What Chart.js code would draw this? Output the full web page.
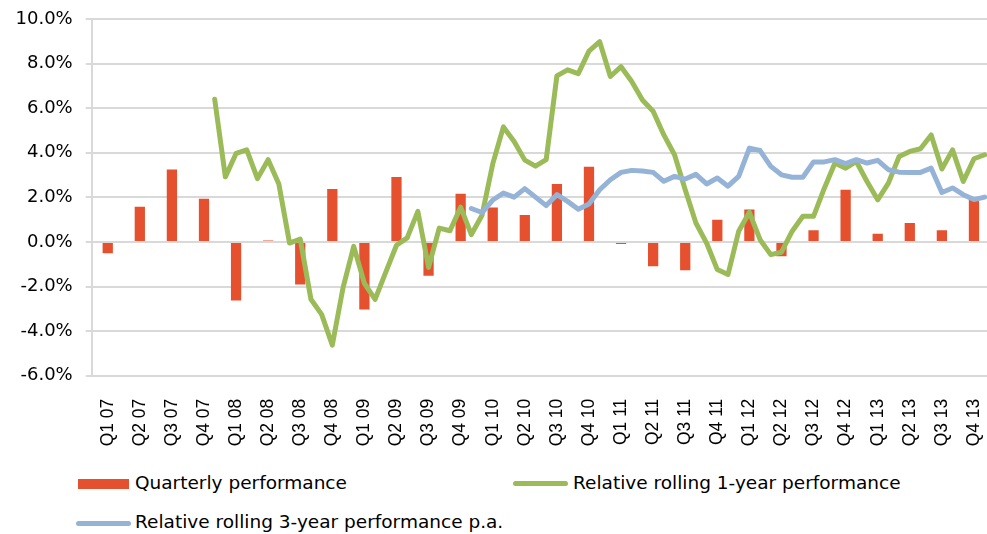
<!DOCTYPE html>
<html lang="en">
<head>
  <meta charset="UTF-8">
  <title>Relative performance</title>
  <script src="https://cdn.jsdelivr.net/npm/chart.js"></script>
  <style>
    body {
      margin: 0;
      background: #fff;
      overflow: hidden;
      width: 987px;
      height: 534px;
      position: relative;
      font-family: "DejaVu Sans", sans-serif;
    }
    .chart-box {
      position: absolute;
      left: 0;
      top: 0;
      width: 990px;
      height: 460px;
    }
    .legend-item {
      position: absolute;
      font-size: 18.5px;
      line-height: 22px;
      color: #000;
      white-space: nowrap;
    }
    .mark {
      position: absolute;
    }
  </style>
</head>
<body>

<div class="chart-box">
  <canvas id="chart"></canvas>
</div>

<div class="mark" style="left:78px; top:479px; width:51px; height:10px; background:#E5512F;"></div>
<div class="legend-item" style="left:135px; top:472px;">Quarterly performance</div>

<div class="mark" style="left:513px; top:481px; width:55px; height:5px; border-radius:3px; background:#9BBB59;"></div>
<div class="legend-item" style="left:573px; top:472px;">Relative rolling 1-year performance</div>

<div class="mark" style="left:76px; top:521px; width:55px; height:5px; border-radius:3px; background:#95B3D7;"></div>
<div class="legend-item" style="left:135px; top:511px;">Relative rolling 3-year performance p.a.</div>

<script>
  const quarters = [
    "Q1 07", "Q2 07", "Q3 07", "Q4 07", "Q1 08", "Q2 08", "Q3 08", "Q4 08",
    "Q1 09", "Q2 09", "Q3 09", "Q4 09", "Q1 10", "Q2 10", "Q3 10", "Q4 10",
    "Q1 11", "Q2 11", "Q3 11", "Q4 11", "Q1 12", "Q2 12", "Q3 12", "Q4 12",
    "Q1 13", "Q2 13", "Q3 13", "Q4 13"
  ];

  // quarterly performance in %, one per quarter
  const quarterly = [
    -0.51, 1.58, 3.25, 1.94, -2.63, 0.06, -1.91, 2.37,
    -3.03, 2.91, -1.52, 2.16, 1.55, 1.21, 2.6, 3.37,
    -0.09, -1.09, -1.27, 1.0, 1.45, -0.64, 0.52, 2.34,
    0.37, 0.85, 0.52, 2.0
  ];

  // monthly, Dec 07 .. Dec 13
  const rolling1y = [
    6.4, 2.92, 3.97, 4.13, 2.84, 3.69, 2.6, -0.05, 0.13, -2.57, -3.25, -4.63,
    -2.06, -0.2, -1.86, -2.58, -1.35, -0.15, 0.18, 1.37, -1.14, 0.62, 0.5, 1.56,
    0.33, 1.2, 3.5, 5.16, 4.51, 3.67, 3.4, 3.69, 7.45, 7.72, 7.55, 8.56,
    8.98, 7.42, 7.86, 7.2, 6.37, 5.86, 4.8, 3.91, 2.34, 0.85, -0.05, -1.24,
    -1.46, 0.48, 1.33, 0.1, -0.57, -0.46, 0.48, 1.15, 1.15, 2.4, 3.54, 3.31,
    3.61, 2.71, 1.89, 2.64, 3.83, 4.06, 4.18, 4.8, 3.27, 4.13, 2.71, 3.73,
    3.91
  ];

  // monthly, Dec 09 .. Dec 13
  const rolling3y = [
    1.5, 1.32, 1.88, 2.19, 2.01, 2.39, 2.01, 1.63, 2.12, 1.82, 1.47, 1.7,
    2.34, 2.79, 3.12, 3.21, 3.18, 3.12, 2.72, 2.94, 2.82, 3.03, 2.6, 2.87,
    2.5, 2.94, 4.21, 4.1, 3.39, 3.01, 2.9, 2.9, 3.59, 3.59, 3.69, 3.51,
    3.69, 3.54, 3.66, 3.24, 3.13, 3.12, 3.12, 3.31, 2.22, 2.42, 2.12, 1.9,
    2.01
  ];

  // the axis runs by month, quarter label and bar sit on the middle month
  const months = quarters.length * 3;
  const labels = [];
  const barData = [];
  for (let i = 0; i < months; i++) {
    const q = Math.floor(i / 3);
    labels.push(i % 3 === 1 ? quarters[q] : "");
    barData.push(i % 3 === 1 ? quarterly[q] : null);
  }

  function padFront(values) {
    return new Array(months - values.length).fill(null).concat(values);
  }

  const gridColor = "#D9D9D9";

  new Chart(document.getElementById("chart"), {
    data: {
      labels: labels,
      datasets: [
        {
          type: "bar",
          label: "Quarterly performance",
          data: barData,
          backgroundColor: "#E5512F",
          barPercentage: 1,
          categoryPercentage: 0.96,
          order: 3
        },
        {
          type: "line",
          label: "Relative rolling 1-year performance",
          data: padFront(rolling1y),
          borderColor: "#9BBB59",
          borderWidth: 5,
          pointRadius: 0,
          tension: 0,
          borderCapStyle: "round",
          borderJoinStyle: "round",
          order: 2
        },
        {
          type: "line",
          label: "Relative rolling 3-year performance p.a.",
          data: padFront(rolling3y),
          borderColor: "#95B3D7",
          borderWidth: 5,
          pointRadius: 0,
          tension: 0,
          borderCapStyle: "round",
          borderJoinStyle: "round",
          order: 1
        }
      ]
    },
    options: {
      responsive: true,
      maintainAspectRatio: false,
      animation: false,
      layout: { padding: { top: 19, right: 0, bottom: 0, left: 0 } },
      plugins: {
        legend: { display: false },
        tooltip: { enabled: false }
      },
      scales: {
        x: {
          grid: { display: false },
          border: { display: true, color: gridColor, width: 2 },
          ticks: {
            autoSkip: false,
            minRotation: 90,
            maxRotation: 90,
            padding: 15,
            color: "#000",
            font: { family: "Liberation Sans", size: 17.5 }
          },
          afterFit: scale => {
            scale.height = 84.3;
            scale.paddingLeft = 0;
            scale.paddingRight = 0;
          }
        },
        y: {
          min: -6,
          max: 10,
          grid: { color: gridColor, lineWidth: 2, tickLength: 6 },
          border: { color: gridColor, width: 2 },
          ticks: {
            stepSize: 2,
            padding: 13,
            color: "#000",
            font: { family: "DejaVu Sans", size: 18 },
            callback: v => v.toFixed(1) + "%"
          },
          afterFit: scale => {
            scale.width = 91.7;
            scale.paddingTop = 0;
            scale.paddingBottom = 0;
          }
        }
      }
    }
  });
</script>

</body>
</html>
